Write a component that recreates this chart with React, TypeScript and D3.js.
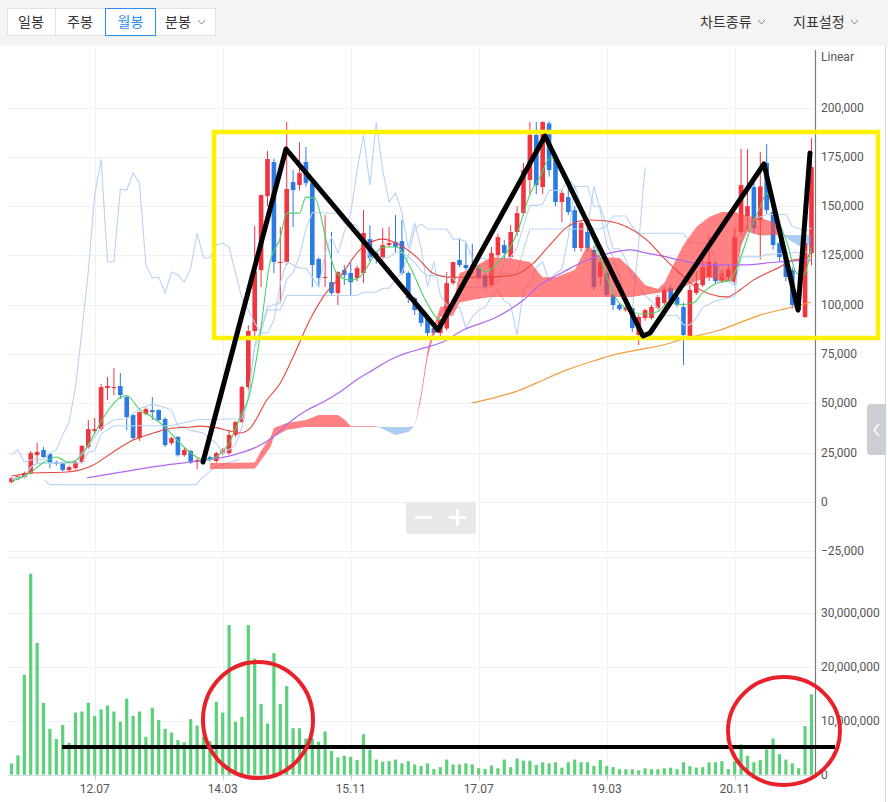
import React from "react";
import * as d3 from "d3";

// ---- monthly candles (prices in thousand KRW), 2011.06 .. 2021.11 ----
const opens = [10.1,11.7,12.7,14.7,23.8,26.4,24.3,20.3,19.8,16.2,
17.2,20.3,27.9,36,37,57.8,57.8,58.8,53.2,44.1,
32.4,44.6,46.6,46.6,42.1,29.9,33,23.8,25.9,20.3,
20.8,22.8,20.8,24.8,24.8,34,40.6,58.3,86.7,117.6,
155.1,172.4,121.2,121.7,162.2,160.7,172.4,161.7,123.2,113.6,
111.5,106,117.6,116.1,113.6,116.1,133.3,126.2,124.2,130.3,
131.8,132.3,116.1,103.4,97.3,93.8,88.2,85.7,88,111,
122.7,120.2,120,118.6,115,110,125.2,130.3,124.2,136.9,
146.5,163.3,186.1,159.7,192,173.4,152.1,154.6,148,128.8,
137,127.8,114.1,116,105,99.9,97.3,98.4,84.7,93.3,
93.3,98.4,100.9,108.5,104,98.9,83.7,106,110,114,
121,112.5,114,111.5,136.9,145,159.7,143,171.9,147,
131.3,124.2,117.6,104,93.8,126.2];
const highs = [12.5,13.5,15.5,25.9,30,27.9,25,21,20.5,18.5,
21,29,41.6,42.6,59.8,63.4,67.9,65.4,54,44.5,
46,48,53.2,47,43,33,33.5,27.5,26.5,22,
23,23.5,25.5,27.4,36.5,41,59,89.7,140,156,
178,174,139.4,192.7,168.3,182.5,180,163,124,145.5,
136.9,117,120.2,121.2,120,148,140.4,127,138.9,139.4,
145.5,143,117,104,98,94.5,89,93,116.6,121.7,
133.8,131.3,131,120,116,129.3,136,133,140.4,150,
171.9,192.7,192.7,193,193,176,158,159.7,150,143,
139,130,124,117,106,101,101.4,99,95,98,
100,105,109,110,105,101,110,117,127.8,135,
123,118,120,139,179,179,162,177.5,181.5,150,
133,126,119,105,133,184.5];
const lows = [9.5,11,12,14,19.8,22.3,17.2,18.5,15.5,15.5,
16.5,19.5,27,35,36,51.7,54.2,52.2,36.5,31.5,
31,44,41.6,41,27.9,29,23,23,19.3,16.7,
20,20.5,20,24,24,33,40,57,84,109,
150,116,100.9,120,139.4,158,160,109,109,109,
105,99.9,110,105,112,111,122,121,123,129.3,
126.2,115,100.9,94.8,89,84,84.5,84,87,110,
119,117.6,116,113,108,109,124,123,123,135,
145,155.6,156,156,165,150,142,145.5,127,127,
127,107.5,110,104,97.3,97,96.5,86.2,79.6,92,
92.5,97.5,100,101,99,69.5,83,105,109,112,
111,111,112,110,135,138,136,123,146,128,
122,112,98,95.8,93.3,120];
const closes = [12.2,13.2,14.7,24.8,25.4,22.8,19.8,19.3,16.2,17.7,
20.3,28.4,37,37,58.3,58.8,58.3,54.2,43.1,32.4,
45.6,47.1,45.6,41.6,28.9,32.4,23.8,26.4,20.3,21.3,
21.8,21.3,24.8,26.4,34,40.6,58.3,86.7,117,155.6,
173.9,121.7,121.7,158.7,158.2,166.8,161.7,120.2,113.6,114.1,
106,116.6,115.1,111.5,118.6,136.4,123.7,123.7,130.3,131.3,
129.3,116.1,103.4,97.3,90.8,85.7,85.7,92.3,111,121.7,
120.2,118.6,118.5,114.1,109,126.2,134.3,126.2,136.9,146.5,
168.3,186.1,160.7,192.7,168.3,152.1,156.7,147,128.8,141.5,
128.8,109,121.7,105,99.9,97.8,98.9,88.2,93.8,97.3,
98.9,103.9,107.5,102,100,84.7,107.5,111,119.1,121.7,
112,116,118,134.3,160.7,150,138.9,160,148,130.3,
124.2,114.1,99.9,97.3,131.3,169.8];
// volume, millions of shares
const volumes = [2.1,3.6,18.5,37.2,24.4,13.3,8.5,6.6,9.2,5.9,
11.5,11.7,13.3,10.9,12.1,12.8,11.7,9.8,14.1,10.9,
11.7,7.0,12.4,10.1,8.5,7.8,6.4,6.0,10.3,9.1,
7.0,6.2,13.5,11.5,27.7,9.8,10.7,27.7,21.5,13.1,
9.5,22.5,13.1,16.4,8.6,8.6,6.7,6.7,6.1,8.0,
4.4,3.2,3.5,3.3,2.7,7.5,4.6,2.8,2.4,2.5,
2.8,2.1,2.5,1.9,1.6,2.1,1.05,1.4,2.8,1.9,
1.9,2.1,1.9,1.2,1.05,1.7,1.2,2.8,1.4,3.0,
2.6,2.6,1.8,2.3,2.1,2.3,1.3,2.3,2.8,2.3,
2.3,1.6,2.7,1.6,1.4,1.0,1.0,1.0,0.8,1.2,
1.0,1.0,1.2,1.3,1.0,2.3,1.6,1.3,1.4,2.3,
2.3,2.5,1.05,2.5,5.6,3.5,2.3,2.7,4.7,6.7,
3.8,2.8,2.1,1.2,9.0,14.9];

// ---- indicator lines: [bar index, value] ----
const ma5: [number, number][] = [[0,10.5],[3,15],[5,20],[7,22.8],[9,20],[11,23.8],[13,35],[15,46],[17,53],[18,54],[20,47],[22,43],[24,38],[26,31],[28,25],[30,21.3],[32,23],[34,30],[36,45],[37,52],[38.5,77],[40.4,121.7],[42,134],[43,146.5],[45,146.5],[46,154.6],[47.4,154],[49.3,131],[50.8,116],[52.9,112.5],[54.4,114],[56.5,124],[58,129.3],[60.2,129.3],[62.3,119],[64.9,101],[67,92.3],[69,100],[70.5,112],[72.4,120],[74.2,116.6],[76.3,122.7],[77.9,129],[79.5,141],[81,156],[82.6,164.8],[84.1,174.4],[85.5,172],[87,164],[88.5,151],[90,140],[91.5,128],[93,114],[94.6,102.4],[96.6,97.3],[98.7,95.3],[100.8,96.3],[102.9,101.4],[104.4,100],[106.5,100.9],[108,106],[110.2,111],[112.3,112.5],[113.8,122.7],[115.4,137.9],[117,149.6],[118,156.7],[119.6,144.5],[121.2,131.3],[122.7,116],[123.7,115],[125,129.3]];
const ma20: [number, number][] = [[0,13.2],[3.4,14.7],[8.6,15.2],[12.8,18.8],[15.9,25.4],[19,31.4],[22.2,35],[25.3,37.5],[28,38],[29.5,38.5],[32,37.7],[34.1,36],[35.7,35],[37.3,37.5],[39.9,51.7],[42,60.3],[44,73.5],[46.6,92.3],[48.7,104],[51.3,114],[54.4,127.8],[56,131.5],[57.9,133.3],[60.7,130.3],[63.3,124.2],[65.9,116],[68.5,114],[73.2,114],[78.4,115],[81.5,121],[84.1,130.3],[86.8,139.4],[89.9,143],[93,142.5],[96.2,139.4],[99.3,132.8],[101.8,124.2],[104.4,116],[106.5,110],[109.1,105.5],[111.8,104],[113.8,107.5],[115.9,112.5],[118,116],[120,119],[122.1,122.7],[124.3,123.7],[125,128.8]];
const ma60: [number, number][] = [[11.8,12.2],[19,16.2],[24.3,18.8],[29.5,20.8],[34.6,23.8],[38.3,27.9],[40.9,33],[43.5,40.6],[46.2,46.6],[48.7,50.7],[51.3,55.8],[53.9,61.9],[56.5,67],[59.1,72],[61.8,75.6],[64.3,78],[67,80.6],[70.6,87.2],[75.8,93.8],[80,102.4],[82.6,110],[86.2,116.6],[89.9,122.7],[93.5,126.2],[96.6,127.8],[99.3,126.2],[101.8,124.7],[104.4,122.7],[109.1,120.2],[114.3,120.2],[119.6,121.7],[125,122.7]];
const ma120: [number, number][] = [[71.9,50.2],[75.8,53.2],[79.5,56.8],[83.1,61.9],[86.8,67],[90.4,71],[94,74.5],[97.7,77],[101.8,79.6],[104.4,82.1],[110.7,87.2],[117,94.8],[122.1,98.9],[125,101.4]];
const tenkan: [number, number][] = [[0,11.5],[2,12.5],[3,17.7],[4,19.8],[8,19.8],[10,21],[12,28.5],[14,37.6],[16,41.7],[18,42.2],[20,47.4],[22,49.5],[24,47.9],[25,46.6],[26,38.5],[27,38.1],[28,36.2],[30,35],[31,31.8],[32,29.9],[33,25.1],[34,26.6],[35,28.9],[36,37.9],[37,53.2],[38,80],[39,88],[40,99],[42,101],[43,112.9],[44,116.4],[45,124.9],[46,138.4],[47,146.8],[51,146.3],[52,141.2],[53,141.2],[54,140],[55,131.5],[56,124],[59,124],[60,126.5],[61,126.5],[62,124.5],[63,121.4],[64,117.3],[65,114.8],[68,114.8],[69,113.5],[70,108.9],[75,108.9],[76,111.5],[77,122],[78,124.2],[79,129],[80,140],[81,150.4],[82,150.4],[83,151],[84,158],[86,158],[87,164],[88,160],[90,160],[91,150],[92,150],[93,140],[94,128.5],[95,128.4],[96,123],[97,114.6],[98,109.3],[99,104.8],[100,101.8],[101,98.3],[102,94.3],[104,94.8],[105,89.8],[106,89.8],[107,93.3],[108,98.7],[110,102],[113,104.3],[114,131],[115,142],[117,144.5],[118,145.8],[121,145.8],[122,139.8],[123,138.7],[124,137.4],[125,138.9]];
const kijun: [number, number][] = [[0,12],[2,13],[3,17.7],[4,19.8],[11,19.8],[12,25.5],[13,26],[14,34.6],[16,38.7],[25,38.7],[26,39.5],[29,41.7],[36,42.2],[37,53.2],[38,78.4],[39,86.4],[40,97.4],[42,97.4],[43,104.7],[54,104.7],[55,106.4],[57,106.4],[58,108.4],[59,108.4],[60,112.9],[61,116.4],[62,124.9],[63,138.4],[64,140.9],[65,138.4],[68,138.4],[69,133.3],[70,133.3],[71,132],[72,123.5],[74,123.5],[75,116],[79,116],[80,128],[81,138.4],[92,138.5],[93,140],[94,145],[96,145],[97,139.6],[98,136.3],[105,136.3],[106,131.3],[109,131.3],[110,122.8],[111,114.6],[113,109.8],[114,124.3],[117,124.3],[118,125.5],[125,127]];
const lowBand: [number, number][] = [[5.2,11],[6,8.8],[28.9,8.8],[29.4,11],[31,15.5],[32,18],[34,20],[35.5,21.5]];
const chikouShift = 26;

// ---- cloud (leading spans) ----
const cloudIdx = [31,38,39,40.5,41,43,46,48,51,52,53,57,58,60,62,63,64,65,66,67,69,70,72,75,78,81,83,85,88,90,92,95,97,99,101,102,103,105,107,109,111,113,114,115,117,119,121,123,125];
const spanA = [19.8,20,26,33,37.5,40,41.6,44.1,44.1,42,38.4,38.4,37,34,35.5,38.5,55,77,89,98.9,100,116,118.6,124.2,123.5,121.7,114,114,117.6,130.3,124.2,123.7,117.6,110,108,111,117.6,130.3,139.4,144.5,147,147,146,145,144,142,134,130,130];
const spanB = [16.7,16.9,21,28,33,36.5,38,38,38,38,38,38,38,38,38,38.3,52,73,85,93.8,94.5,101,102.4,104,104,104,104,104,104,104,104,104,104,105,106,106.5,106.5,109,112,114,111.5,112,130,137,135,135.4,135.4,135.4,135.4];

const xTickIndex = [13, 33, 53, 73, 93, 113];
const xTickLabels = ["12.07", "14.03", "15.11", "17.07", "19.03", "20.11"];
const priceTicks = [200, 175, 150, 125, 100, 75, 50, 25, 0, -25];
const volumeTicks = [0, 10, 20, 30];

const RED = "#f0353f";
const BLUE = "#2b7be3";
const LIGHTBLUE = "#b7d3f5";

function Chevron({ x, y }: { x: number; y: number }) {
  return <polyline points={`${x},${y} ${x + 3.5},${y + 4} ${x + 7},${y}`} fill="none" stroke="#888" strokeWidth={1} />;
}

export default function App() {
  const x = d3.scaleLinear().domain([-0.55, 125.55]).range([8, 815]);
  const yP = d3.scaleLinear().domain([-25.35, 229.2]).range([552, 50]);
  const yV = d3.scaleLinear().domain([0, 40.3]).range([774.7, 557]);
  const fmt = d3.format(",");

  const lineLin = d3.line<[number, number]>().x(d => x(d[0])).y(d => yP(d[1]));
  const lineSmooth = d3.line<[number, number]>().x(d => x(d[0])).y(d => yP(d[1])).curve(d3.curveMonotoneX);

  const chikou: [number, number][] = closes.slice(chikouShift).map((c, k) => [k, c]);

  const cloud = cloudIdx.map((i, k) => ({ i, a: spanA[k], b: spanB[k] }));
  type C = { i: number; a: number; b: number };
  const areaAB = d3.area<C>().x(d => x(d.i)).y0(d => yP(d.b)).y1(d => yP(d.a));
  const clipAbove = d3.area<C>().x(d => x(d.i)).y0(d => yP(d.b)).y1(() => 40);
  const clipBelow = d3.area<C>().x(d => x(d.i)).y0(d => yP(d.b)).y1(() => 560);

  const candleW = 4.6;
  const volW = 3.2;
  const idx = d3.range(opens.length);

  const zig = [[203, 462], [286, 149], [438, 330], [545, 136], [643, 336], [650, 333], [764, 164], [798, 310], [810, 153]];

  return (
    <div style={{ position: "absolute", left: 0, top: 0, width: 888, height: 802, background: "#fff" }}>
      <svg width={888} height={802} style={{ display: "block" }} fontFamily="Roboto, 'Noto Sans', sans-serif">
        <defs>
          <clipPath id="plot"><rect x={8} y={48} width={807} height={504} /></clipPath>
          <clipPath id="above"><path d={clipAbove(cloud) || ""} /></clipPath>
          <clipPath id="below"><path d={clipBelow(cloud) || ""} /></clipPath>
        </defs>

        {/* toolbar */}
        <rect x={0} y={0} width={888} height={46} fill="#f4f4f4" />
        <g fontFamily="'Noto Sans CJK KR', sans-serif" fontSize={14}>
          <rect x={7.5} y={8.5} width={208} height={27} fill="#fff" stroke="#e2e2e2" />
          <line x1={55.5} y1={9} x2={55.5} y2={35} stroke="#e2e2e2" />
          <line x1={155.5} y1={9} x2={155.5} y2={35} stroke="#e2e2e2" />
          <rect x={105.5} y={8.5} width={50} height={27} fill="#fff" stroke="#2d8cf0" />
          <text x={31} y={27} textAnchor="middle" fill="#333">일봉</text>
          <text x={80} y={27} textAnchor="middle" fill="#333">주봉</text>
          <text x={130.5} y={27} textAnchor="middle" fill="#2d8cf0">월봉</text>
          <text x={178} y={27} textAnchor="middle" fill="#333">분봉</text>
          <Chevron x={198} y={20} />
          <text x={700} y={27} fill="#333">차트종류</text>
          <Chevron x={758} y={20} />
          <text x={793} y={27} fill="#333">지표설정</text>
          <Chevron x={851} y={20} />
        </g>

        {/* panel border */}
        <line x1={885.5} y1={46} x2={885.5} y2={802} stroke="#dcdcdc" />

        {/* gridlines */}
        <g stroke="#f0f0f3" strokeWidth={1}>
          {priceTicks.map(t => (
            <line key={"hp" + t} x1={8} x2={815} y1={Math.round(yP(t)) + 0.5} y2={Math.round(yP(t)) + 0.5} />
          ))}
          {[...volumeTicks.slice(1), 40.3].map(t => (
            <line key={"hv" + t} x1={8} x2={815} y1={Math.round(yV(t)) + 0.5} y2={Math.round(yV(t)) + 0.5} />
          ))}
          {xTickIndex.map(i => (
            <g key={"vg" + i}>
              <line x1={Math.round(x(i)) + 0.5} x2={Math.round(x(i)) + 0.5} y1={48} y2={552} />
              <line x1={Math.round(x(i)) + 0.5} x2={Math.round(x(i)) + 0.5} y1={557} y2={775} />
            </g>
          ))}
        </g>

        <g clipPath="url(#plot)">
          {/* candles */}
          {idx.map(i => {
            const up = closes[i] >= opens[i];
            const col = up ? RED : BLUE;
            const top = yP(Math.max(opens[i], closes[i]));
            const bot = yP(Math.min(opens[i], closes[i]));
            return (
              <g key={"c" + i}>
                <line x1={x(i)} x2={x(i)} y1={yP(highs[i])} y2={yP(lows[i])} stroke={col} strokeWidth={1} />
                <rect x={x(i) - candleW / 2} y={top} width={candleW} height={Math.max(1, bot - top)} fill={col} />
              </g>
            );
          })}

          {/* light blue ichimoku lines */}
          <g fill="none" stroke={LIGHTBLUE} strokeWidth={1.1}>
            <path d={lineLin(chikou) || ""} />
            <path d={lineLin(tenkan) || ""} />
            <path d={lineLin(kijun) || ""} />
            <path d={lineLin(lowBand) || ""} />
          </g>

          {/* cloud */}
          <path d={areaAB(cloud) || ""} fill="#ff4646" fillOpacity={0.68} clipPath="url(#above)" />
          <path d={areaAB(cloud) || ""} fill="#5b9be8" fillOpacity={0.5} clipPath="url(#below)" />

          {/* moving averages */}
          <path d={lineSmooth(ma120) || ""} fill="none" stroke="#f59a3c" strokeWidth={1.2} />
          <path d={lineSmooth(ma60) || ""} fill="none" stroke="#b066f0" strokeWidth={1.2} />
          <path d={lineSmooth(ma20) || ""} fill="none" stroke="#e8463c" strokeWidth={1.1} />
          <path d={lineSmooth(ma5) || ""} fill="none" stroke="#4cd166" strokeWidth={1.1} />
        </g>

        {/* volume bars */}
        {idx.map(i => (
          <rect key={"v" + i} x={x(i) - volW / 2} y={yV(volumes[i])} width={volW} height={yV(0) - yV(volumes[i])} fill="#5dd07b" />
        ))}

        {/* axes */}
        <line x1={815.5} x2={815.5} y1={50} y2={775} stroke="#7a7a7a" strokeWidth={1.2} />
        <line x1={8} x2={815} y1={775.5} y2={775.5} stroke="#d3dae6" />
        {xTickIndex.map((i, k) => (
          <g key={"xt" + i}>
            <line x1={Math.round(x(i)) + 0.5} x2={Math.round(x(i)) + 0.5} y1={775} y2={780} stroke="#c5cedd" />
            <text x={x(i)} y={793} textAnchor="middle" fontSize={12} fill="#555">{xTickLabels[k]}</text>
          </g>
        ))}
        <text x={821} y={61} fontSize={12} fill="#555">Linear</text>
        {priceTicks.map(t => (
          <text key={"pt" + t} x={821} y={yP(t) + 4} fontSize={12} fill="#555">{fmt(t * 1000)}</text>
        ))}
        {volumeTicks.map(t => (
          <text key={"vt" + t} x={821} y={yV(t) + 4} fontSize={12} fill="#555">{fmt(t * 1000000)}</text>
        ))}

        {/* zoom control */}
        <rect x={406} y={502} width={70} height={32} rx={2} fill="#e8e8e8" />
        <rect x={415} y={516} width={17} height={3} fill="#fff" />
        <rect x={449} y={516} width={17} height={3} fill="#fff" />
        <rect x={456} y={509} width={3} height={17} fill="#fff" />

        {/* side tab */}
        <path d="M886,404 L871,404 Q867,404 867,408 L867,451 Q867,455 871,455 L886,455 Z" fill="#cbced2" />
        <polyline points="879,424 874,430 879,436" fill="none" stroke="#fff" strokeWidth={1.5} />

        {/* annotations */}
        <rect x={214} y={132} width={664} height={206} fill="none" stroke="#fff200" strokeWidth={4.5} />
        <polyline points={zig.map(p => p.join(",")).join(" ")} fill="none" stroke="#000" strokeWidth={5} strokeLinejoin="round" strokeLinecap="round" />
        <line x1={62} x2={835} y1={747} y2={747} stroke="#000" strokeWidth={4} />
        <ellipse cx={258} cy={720} rx={55} ry={58} fill="none" stroke="#e8212b" strokeWidth={4} />
        <ellipse cx={784} cy={731} rx={56} ry={54} fill="none" stroke="#e8212b" strokeWidth={4} />
      </svg>
    </div>
  );
}
